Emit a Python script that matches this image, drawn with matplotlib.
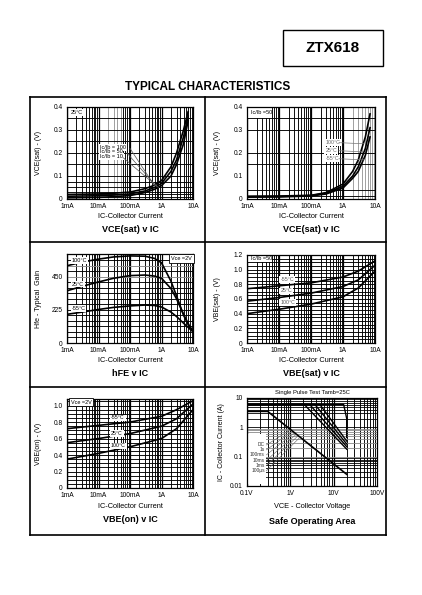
import numpy as np
import matplotlib.pyplot as plt
from matplotlib.lines import Line2D
from matplotlib.patches import Rectangle

plt.rcParams['font.family'] = ['Liberation Sans', 'DejaVu Sans']

W, H = 422, 595

########## data
ic_ticks = [1e-3, 1e-2, 1e-1, 1, 10]
ic_labels = ['1mA', '10mA', '100mA', '1A', '10A']

# VCE(sat) v IC, 25C
vsat_ic = [1e-3, 3e-3, 1e-2, 3e-2, 0.1, 0.3, 0.6, 1, 2, 3, 5, 7]
vsat_100 = [0.020, 0.021, 0.022, 0.025, 0.030, 0.045, 0.060, 0.080, 0.14, 0.20, 0.30, 0.38]
vsat_50 = [0.012, 0.013, 0.014, 0.017, 0.022, 0.035, 0.050, 0.068, 0.12, 0.17, 0.27, 0.36]
vsat_10 = [0.005, 0.006, 0.007, 0.010, 0.015, 0.028, 0.042, 0.058, 0.10, 0.15, 0.24, 0.34]

# VCE(sat) v IC, Ic/Ib=50
vt_ic = [1e-3, 1e-2, 1e-1, 0.3, 1, 2, 3, 5, 7]
vt_100c = [0.012, 0.013, 0.016, 0.028, 0.065, 0.12, 0.17, 0.27, 0.37]
vt_25c = [0.010, 0.011, 0.015, 0.025, 0.055, 0.10, 0.14, 0.22, 0.31]
vt_m55c = [0.008, 0.009, 0.013, 0.022, 0.048, 0.09, 0.12, 0.19, 0.27]

# hFE v IC
hfe_ic = [1e-3, 3e-3, 1e-2, 3e-2, 0.1, 0.3, 0.6, 1, 2, 3, 5, 8, 10]
hfe_100c = [525, 550, 570, 585, 592, 590, 575, 545, 420, 320, 190, 100, 75]
hfe_25c = [355, 385, 415, 440, 458, 462, 455, 440, 370, 300, 195, 110, 85]
hfe_m55c = [195, 210, 228, 242, 252, 258, 255, 245, 210, 180, 135, 95, 80]

# VBE(sat) v IC
vbe_ic = [1e-3, 1e-2, 1e-1, 1, 3, 10]
vbes_m55c = [0.74, 0.78, 0.82, 0.90, 0.98, 1.12]
vbes_25c = [0.57, 0.62, 0.68, 0.77, 0.86, 1.06]
vbes_100c = [0.40, 0.46, 0.53, 0.63, 0.75, 0.98]

# VBE(on) v IC
vbeon_m55c = [0.72, 0.76, 0.80, 0.87, 0.95, 1.06]
vbeon_25c = [0.55, 0.60, 0.66, 0.75, 0.84, 1.02]
vbeon_100c = [0.35, 0.42, 0.50, 0.60, 0.72, 0.95]

# Safe operating area
soa_dc_v = [0.1, 0.3, 20]
soa_dc_i = [3.5, 3.5, 0.025]
soa_pulse = {
    '1s': ([0.1, 2.1, 20], [6, 6, 0.18]),
    '100ms': ([0.1, 2.8, 20], [6, 6, 0.22]),
    '10ms': ([0.1, 3.7, 20], [6, 6, 0.27]),
    '1ms': ([0.1, 4.8, 20], [6, 6, 0.34]),
    '100\u00b5s': ([0.1, 17, 20, 20], [6, 6, 2, 0.45]),
}
soa_names = ['DC', '1s', '100ms', '10ms', '1ms', '100\u00b5s']

fig = plt.figure(figsize=(W / 100, H / 100), dpi=100)


def px_axes(l, t, r, b):
    return fig.add_axes([l / W, 1 - b / H, (r - l) / W, (b - t) / H])


def fig_line(x0, y0, x1, y1, lw=1.2):
    fig.add_artist(Line2D([x0 / W, x1 / W], [1 - y0 / H, 1 - y1 / H], color='black', lw=lw))


def fig_text(x, y, s, **kw):
    fig.text(x / W, 1 - y / H, s, **kw)


GLW = 0.65
CLW = 1.2


def log_vgrid(ax, d0, d1, gray=()):
    for d in range(d0, d1):
        for m in range(1, 10):
            c = '#999999' if (d, m) in gray else 'black'
            ax.axvline(m * 10.0 ** d, color=c, lw=GLW if m > 1 else 0.9, zorder=1)


def style(ax, ylim, yticks, ylabels):
    ax.set_xscale('log')
    ax.set_xlim(1e-3, 10)
    ax.set_ylim(*ylim)
    ax.set_xticks(ic_ticks)
    ax.set_xticklabels(ic_labels)
    ax.xaxis.set_minor_locator(plt.NullLocator())
    ax.set_yticks(yticks)
    ax.set_yticklabels(ylabels)
    ax.tick_params(length=0, labelsize=4.8, pad=3)
    for s in ax.spines.values():
        s.set_linewidth(0.9)


def sub_labels(ax, box, xlabel, title, ylabel, ylx):
    l, t, r, b = box
    cx = (l + r) / 2
    fig_text(cx, b + 18, xlabel, fontsize=5.3, ha='center', va='center')
    fig_text(cx, b + 31, title, fontsize=6.5, fontweight='bold', ha='center', va='center')
    ax.set_ylabel(ylabel, fontsize=5.0)
    ax.yaxis.set_label_coords(ylx, 0.5)


########## frame and headings
fig_line(30, 97, 386, 97)
fig_line(30, 535, 386, 535)
fig_line(30, 97, 30, 535)
fig_line(386, 97, 386, 535)
fig_line(205, 97, 205, 535)
fig_line(30, 242, 386, 242)
fig_line(30, 387, 386, 387)
fig.add_artist(Rectangle((283 / W, 1 - 66 / H), 100 / W, 36 / H, fill=False, lw=1.0, transform=fig.transFigure))
fig_text(333, 48, 'ZTX618', fontsize=11, fontweight='bold', ha='center', va='center')
fig_text(208, 87, 'TYPICAL CHARACTERISTICS', fontsize=8.5, fontweight='bold', ha='center', va='center')

lbl_box = dict(facecolor='white', edgecolor='none', pad=0.6)

########## VCE(sat) v IC
b1 = (67, 107, 193, 199)
ax1 = px_axes(*b1)
log_vgrid(ax1, -3, 1, gray={(-2, 2), (-2, 3), (-2, 4), (-2, 5)})
for y in [0.01, 0.02, 0.03, 0.05, 0.075, 0.1, 0.15, 0.2, 0.25, 0.3, 0.35]:
    ax1.axhline(y, color='black', lw=GLW, zorder=1)
for v in [vsat_100, vsat_50, vsat_10]:
    ax1.plot(vsat_ic, v, color='black', lw=CLW, zorder=3)
style(ax1, (0, 0.4), [0, 0.1, 0.2, 0.3, 0.4], ['0', '0.1', '0.2', '0.3', '0.4'])
ax1.text(1.3e-3, 0.375, '25\u00b0C', fontsize=4, va='center', bbox=lbl_box, zorder=4)
for i, (s, y) in enumerate(zip(['Ic/Ib = 100', 'Ic/Ib = 50', 'Ic/Ib = 10'], [0.225, 0.205, 0.185])):
    ax1.text(1.1e-2, y, s, fontsize=4, va='center', bbox=lbl_box, zorder=4)
    ax1.plot([0.1 - 0.02 * i, 0.6 + 0.1 * i], [y - 0.005, 0.058 - 0.004 * i], color='#555555', lw=0.5, zorder=4)
sub_labels(ax1, b1, 'IC-Collector Current', 'VCE(sat) v IC', 'VCE(sat) - (V)', -0.2)

########## VCE(sat) v IC, temperature
b2 = (247, 107, 375, 199)
ax2 = px_axes(*b2)
log_vgrid(ax2, -3, 1, gray={(0, m) for m in range(2, 10)})
for y in [0.015, 0.04, 0.15, 0.2, 0.3, 0.35]:
    ax2.axhline(y, color='black', lw=GLW, zorder=1)
for v in [vt_100c, vt_25c, vt_m55c]:
    ax2.plot(vt_ic, v, color='black', lw=CLW, zorder=3)
style(ax2, (0, 0.4), [0, 0.1, 0.2, 0.3, 0.4], ['0', '0.1', '0.2', '0.3', '0.4'])
ax2.add_patch(Rectangle((1e-3, 0.35), 5e-3, 0.05, facecolor='white', edgecolor='none', zorder=2))
ax2.text(1.3e-3, 0.375, 'Ic/Ib =50', fontsize=4, va='center', zorder=4)
for s, y, xe in zip(['100\u00b0C', '25\u00b0C', '-55\u00b0C'], [0.245, 0.21, 0.175], [4.5, 4.0, 4.5]):
    ax2.text(0.28, y, s, fontsize=3.8, va='center', color='#666666', bbox=lbl_box, zorder=4)
    ax2.plot([0.75, xe], [y, y - 0.005], color='#777777', lw=0.5, zorder=4)
sub_labels(ax2, b2, 'IC-Collector Current', 'VCE(sat) v IC', 'VCE(sat) - (V)', -0.2)

########## hFE v IC
b3 = (67, 254, 193, 343)
ax3 = px_axes(*b3)
log_vgrid(ax3, -3, 1)
for y in np.arange(37.5, 600, 37.5):
    ax3.axhline(y, color='#888888' if y in (450, 525) else 'black', lw=GLW, zorder=1)
for v in [hfe_100c, hfe_25c, hfe_m55c]:
    ax3.plot(hfe_ic, v, color='black', lw=CLW, zorder=3)
style(ax3, (0, 605), [0, 225, 450], ['0', '225', '450'])
ax3.text(1.4e-3, 560, '100\u00b0C', fontsize=4, va='center', bbox=lbl_box, zorder=4)
ax3.text(1.4e-3, 400, '25\u00b0C', fontsize=4, va='center', bbox=lbl_box, zorder=4)
ax3.text(1.4e-3, 235, '-55\u00b0C', fontsize=4, va='center', bbox=lbl_box, zorder=4)
ax3.text(2.0, 575, 'Vce =2V', fontsize=4, va='center', zorder=4,
         bbox=dict(facecolor='white', edgecolor='black', lw=0.6, pad=1.5))
sub_labels(ax3, b3, 'IC-Collector Current', 'hFE v IC', 'Hfe - Typical  Gain', -0.2)

########## VBE(sat) v IC
b4 = (247, 255, 375, 343)
ax4 = px_axes(*b4)
log_vgrid(ax4, -3, 1)
for y in np.arange(0.05, 1.2, 0.05):
    ax4.axhline(y, color='black', lw=GLW, zorder=1)
for v in [vbes_m55c, vbes_25c, vbes_100c]:
    ax4.plot(vbe_ic, v, color='black', lw=CLW, zorder=3)
style(ax4, (0, 1.2), [0, 0.2, 0.4, 0.6, 0.8, 1.0, 1.2], ['0', '0.2', '0.4', '0.6', '0.8', '1.0', '1.2'])
ax4.add_patch(Rectangle((1e-3, 1.1), 5e-3, 0.1, facecolor='white', edgecolor='none', zorder=2))
ax4.text(1.3e-3, 1.15, 'Ic/Ib =50', fontsize=4, va='center', zorder=4)
ax4.text(1.1e-2, 0.865, '-55\u00b0C', fontsize=3.8, color='#555555', va='center', bbox=lbl_box, zorder=4)
ax4.text(1.1e-2, 0.71, '25\u00b0C', fontsize=3.8, color='#555555', va='center', bbox=lbl_box, zorder=4)
ax4.text(1.1e-2, 0.55, '100\u00b0C', fontsize=3.8, color='#555555', va='center', bbox=lbl_box, zorder=4)
sub_labels(ax4, b4, 'IC-Collector Current', 'VBE(sat) v IC', 'VBE(sat) - (V)', -0.2)

########## VBE(on) v IC
b5 = (67, 399, 193, 488)
ax5 = px_axes(*b5)
log_vgrid(ax5, -3, 1)
for y in np.arange(0.05, 1.1, 0.05):
    ax5.axhline(y, color='black', lw=GLW, zorder=1)
for v in [vbeon_m55c, vbeon_25c, vbeon_100c]:
    ax5.plot(vbe_ic, v, color='black', lw=CLW, zorder=3)
style(ax5, (0, 1.08), [0, 0.2, 0.4, 0.6, 0.8, 1.0], ['0', '0.2', '0.4', '0.6', '0.8', '1.0'])
ax5.text(1.3e-3, 1.04, 'Vce =2V', fontsize=4, va='center', zorder=4,
         bbox=dict(facecolor='white', edgecolor='black', lw=0.6, pad=1.0))
ax5.text(2.5e-2, 0.85, '-55\u00b0C', fontsize=3.8, va='center', bbox=lbl_box, zorder=4)
ax5.text(2.5e-2, 0.66, '25\u00b0C', fontsize=3.8, va='center', bbox=lbl_box, zorder=4)
ax5.text(2.5e-2, 0.51, '100\u00b0C', fontsize=3.8, va='center', bbox=lbl_box, zorder=4)
sub_labels(ax5, b5, 'IC-Collector Current', 'VBE(on) v IC', 'VBE(on) - (V)', -0.2)

########## Safe operating area
b6 = (247, 398, 377, 486)
ax6 = px_axes(*b6)
for d in range(-1, 2):
    for m in range(1, 10):
        ax6.axvline(m * 10.0 ** d, color='black', lw=GLW if m > 1 else 0.9, zorder=1)
for d in range(-2, 1):
    for m in range(1, 10):
        ax6.axhline(m * 10.0 ** d, color='#888888' if d == -1 else 'black', lw=0.6, zorder=1)
ax6.add_patch(Rectangle((0.1, 0.012), 0.18, 0.6, facecolor='white', edgecolor='none', zorder=2))
ax6.plot(soa_dc_v, soa_dc_i, color='black', lw=CLW, zorder=3)
for k in soa_names[1:]:
    ax6.plot(soa_pulse[k][0], soa_pulse[k][1], color='black', lw=1.0, zorder=3)
ax6.set_xscale('log')
ax6.set_yscale('log')
ax6.set_xlim(0.1, 100)
ax6.set_ylim(0.01, 10)
ax6.set_xticks([0.1, 1, 10, 100])
ax6.set_xticklabels(['0.1V', '1V', '10V', '100V'])
ax6.set_yticks([0.01, 0.1, 1, 10])
ax6.set_yticklabels(['0.01', '0.1', '1', '10'])
ax6.xaxis.set_minor_locator(plt.NullLocator())
ax6.yaxis.set_minor_locator(plt.NullLocator())
ax6.tick_params(length=0, labelsize=4.8, pad=3)
for s in ax6.spines.values():
    s.set_linewidth(0.9)
for i, (s, y) in enumerate(zip(soa_names, [0.25, 0.17, 0.115, 0.075, 0.05, 0.033])):
    ax6.text(0.26, y, s, fontsize=3.5, ha='right', va='center', color='#333333', zorder=4)
    ax6.plot([0.28, 0.9 + 0.15 * i], [y, 0.75 - 0.06 * i], color='#666666', lw=0.4, zorder=4)
ax6.text(0.5, 1.03, 'Single Pulse Test Tamb=25C', transform=ax6.transAxes, fontsize=4.2, ha='center', va='bottom')
ax6.set_ylabel('IC - Collector Current (A)', fontsize=5.0)
ax6.yaxis.set_label_coords(-0.17, 0.5)
fig_text(312, 506, 'VCE - Collector Voltage', fontsize=5.3, ha='center', va='center')
fig_text(312, 521, 'Safe Operating Area', fontsize=6.5, fontweight='bold', ha='center', va='center')

fig.savefig('out.png', dpi=100)
